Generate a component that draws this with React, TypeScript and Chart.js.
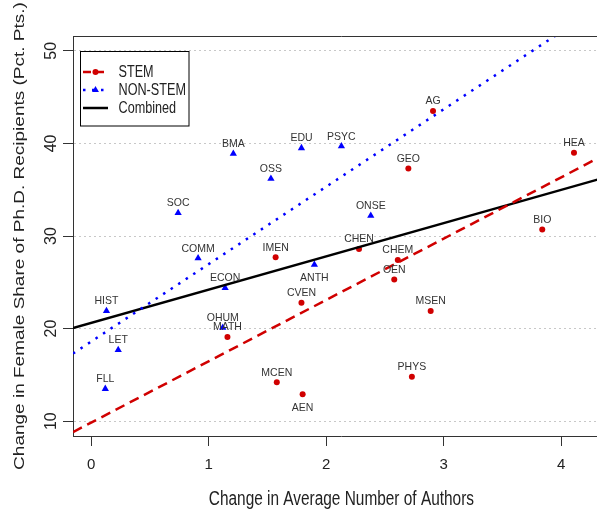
import React, { useEffect, useRef } from 'react';
import { Chart, registerables } from 'chart.js';

Chart.register(...registerables);

// ---------- data ----------
const X_TICKS = [0, 1, 2, 3, 4];
const Y_TICKS = [10, 20, 30, 40, 50];
const X_MIN = -0.155;
const X_MAX = 4.415;
const Y_MIN = 8.4;
const Y_MAX = 51.6;

const STEM_LABELS = ['AG', 'GEO', 'HEA', 'BIO', 'CHEN', 'CHEM', 'OEN', 'MSEN', 'PHYS', 'IMEN', 'CVEN', 'MATH', 'MCEN', 'AEN'];
const STEM_X = [2.91, 2.70, 4.11, 3.84, 2.28, 2.61, 2.58, 2.89, 2.73, 1.57, 1.79, 1.16, 1.58, 1.80];
const STEM_Y = [43.5, 37.3, 39.0, 30.7, 28.6, 27.4, 25.3, 21.9, 14.8, 27.7, 22.8, 19.1, 14.2, 12.9];

const NONSTEM_LABELS = ['BMA', 'EDU', 'PSYC', 'OSS', 'SOC', 'ONSE', 'COMM', 'ECON', 'ANTH', 'HIST', 'OHUM', 'LET', 'FLL'];
const NONSTEM_X = [1.21, 1.79, 2.13, 1.53, 0.74, 2.38, 0.91, 1.14, 1.90, 0.13, 1.12, 0.23, 0.12];
const NONSTEM_Y = [38.9, 39.5, 39.7, 36.2, 32.5, 32.2, 27.6, 24.4, 26.9, 21.9, 20.1, 17.7, 13.5];

const LABELS_BELOW = ['ANTH', 'AEN'];

const FIT_NAMES = ['STEM', 'NON-STEM', 'Combined'];
const FIT_INTERCEPT = [9.85, 18.6, 20.62];
const FIT_SLOPE = [6.62, 8.36, 3.59];

const X_TITLE = 'Change in Average Number of Authors';
const Y_TITLE = 'Change in Female Share of Ph.D. Recipients (Pct. Pts.)';

// ---------- styles ----------
const RED = '#D00000';
const BLUE = '#0000FF';
const BLACK = '#000000';
const FIT_COLORS = [RED, BLUE, BLACK];
const FIT_DASH = [[10, 6], [2.5, 6.5], []];
const FIT_MARKER = ['circle', 'triangle', null];
const SANS = '"Liberation Sans", Arial, sans-serif';
const SQUEEZE = 0.79; // reference text is horizontally condensed

function drawMarker(ctx: CanvasRenderingContext2D, kind: string | null, x: number, y: number, color: string) {
  if (!kind) return;
  ctx.save();
  ctx.setLineDash([]);
  ctx.fillStyle = color;
  ctx.beginPath();
  if (kind === 'circle') {
    ctx.arc(x, y, 3, 0, Math.PI * 2);
  } else {
    const r = 4;
    ctx.moveTo(x, y - r);
    ctx.lineTo(x + r * 0.866, y + r / 2);
    ctx.lineTo(x - r * 0.866, y + r / 2);
    ctx.closePath();
  }
  ctx.fill();
  ctx.restore();
}

function squeezedText(
  ctx: CanvasRenderingContext2D,
  text: string,
  x: number,
  y: number,
  font: string,
  align: CanvasTextAlign,
  rotate = false,
) {
  ctx.save();
  ctx.font = font;
  ctx.textAlign = align;
  ctx.textBaseline = 'middle';
  ctx.translate(x, y);
  if (rotate) {
    ctx.rotate(-Math.PI / 2);
    ctx.scale(1, SQUEEZE);
  } else {
    ctx.scale(SQUEEZE, 1);
  }
  ctx.fillText(text, 0, 0);
  ctx.restore();
}

const overlayPlugin = {
  id: 'overlay',
  afterDatasetsDraw(chart: any) {
    const { ctx, chartArea: ca } = chart;
    ctx.save();
    // top frame line
    ctx.strokeStyle = '#333';
    ctx.lineWidth = 1;
    ctx.setLineDash([]);
    ctx.beginPath();
    ctx.moveTo(ca.left, Math.round(ca.top) + 0.5);
    ctx.lineTo(ca.right, Math.round(ca.top) + 0.5);
    ctx.stroke();

    // point labels
    ctx.font = `10.5px ${SANS}`;
    ctx.fillStyle = '#333';
    ctx.textAlign = 'center';
    ctx.textBaseline = 'middle';
    chart.data.datasets.forEach((ds: any, di: number) => {
      if (!ds.pointNames) return;
      const meta = chart.getDatasetMeta(di);
      meta.data.forEach((el: any, i: number) => {
        const name = ds.pointNames[i];
        const below = LABELS_BELOW.includes(name);
        ctx.fillText(name, el.x, below ? el.y + 13.5 : el.y - 9.5);
      });
    });

    // legend
    const lx = Math.round(ca.left) + 7.5;
    const ly = Math.round(ca.top) + 15.5;
    ctx.strokeStyle = BLACK;
    ctx.lineWidth = 1;
    ctx.strokeRect(lx, ly, 108.5, 74.5);
    FIT_NAMES.forEach((name, i) => {
      const y = ly + 20.5 + i * 18;
      const x0 = lx + 2.5;
      const x1 = lx + 27.5;
      ctx.save();
      ctx.strokeStyle = FIT_COLORS[i];
      ctx.lineWidth = 2.5;
      ctx.setLineDash(i === 0 ? [8, 5] : FIT_DASH[i]);
      ctx.beginPath();
      ctx.moveTo(x0, y);
      ctx.lineTo(x1, y);
      ctx.stroke();
      ctx.restore();
      drawMarker(ctx, FIT_MARKER[i], (x0 + x1) / 2, y, FIT_COLORS[i]);
      ctx.fillStyle = '#222';
      squeezedText(ctx, name, lx + 38, y + 0.5, `16px ${SANS}`, 'left');
    });

    // axis titles (condensed like the reference)
    ctx.fillStyle = '#222';
    squeezedText(ctx, X_TITLE, (ca.left + ca.right) / 2, 500, `19.5px ${SANS}`, 'center');
    squeezedText(ctx, Y_TITLE, 20, (ca.top + ca.bottom) / 2, `19px ${SANS}`, 'center', true);
    ctx.restore();
  },
};

export default function App() {
  const canvasRef = useRef<HTMLCanvasElement | null>(null);

  useEffect(() => {
    if (!canvasRef.current) return;

    const fitDatasets = FIT_NAMES.map((name, i) => ({
      label: name,
      data: [X_MIN, X_MAX].map((x) => ({ x, y: FIT_INTERCEPT[i] + FIT_SLOPE[i] * x })),
      showLine: true,
      borderColor: FIT_COLORS[i],
      borderWidth: 2.5,
      borderDash: FIT_DASH[i],
      pointRadius: 0,
      fill: false,
    }));

    const chart = new Chart(canvasRef.current, {
      type: 'scatter',
      data: {
        datasets: [
          ...fitDatasets,
          {
            label: 'STEM points',
            pointNames: STEM_LABELS,
            data: STEM_X.map((x, i) => ({ x, y: STEM_Y[i] })),
            pointStyle: 'circle',
            pointRadius: 3,
            backgroundColor: RED,
            borderColor: RED,
            borderWidth: 0,
          } as any,
          {
            label: 'NON-STEM points',
            pointNames: NONSTEM_LABELS,
            data: NONSTEM_X.map((x, i) => ({ x, y: NONSTEM_Y[i] })),
            pointStyle: 'triangle',
            pointRadius: 4.2,
            backgroundColor: BLUE,
            borderColor: BLUE,
            borderWidth: 0,
          } as any,
        ],
      },
      options: {
        responsive: false,
        maintainAspectRatio: false,
        animation: false,
        events: [],
        layout: { padding: { top: 36, left: 0, right: 0, bottom: 0 } },
        plugins: { legend: { display: false }, tooltip: { enabled: false } },
        scales: {
          x: {
            type: 'linear',
            min: X_MIN,
            max: X_MAX,
            afterBuildTicks: (s: any) => {
              s.ticks = X_TICKS.map((v) => ({ value: v }));
            },
            afterFit: (s: any) => {
              s.height = 78;
            },
            grid: { drawOnChartArea: false, drawTicks: true, tickLength: 10, tickColor: '#333', tickWidth: 1 },
            border: { display: true, color: '#333', width: 1 },
            ticks: {
              font: { family: SANS, size: 15 },
              color: '#222',
              padding: 10,
              maxRotation: 0,
              minRotation: 0,
              callback: (v: any) => String(v),
            },
            title: { display: false, text: X_TITLE },
          },
          y: {
            type: 'linear',
            min: Y_MIN,
            max: Y_MAX,
            afterBuildTicks: (s: any) => {
              s.ticks = Y_TICKS.map((v) => ({ value: v }));
            },
            afterFit: (s: any) => {
              s.width = 73;
            },
            grid: {
              color: '#c8c8c8',
              lineWidth: 1,
              drawTicks: true,
              tickLength: 10,
              tickColor: '#333',
              tickWidth: 1,
              tickBorderDash: [],
            },
            border: { display: true, color: '#333', width: 1, dash: [2, 3] },
            ticks: {
              font: { family: SANS, size: 16 },
              color: '#222',
              padding: 3,
              minRotation: 90,
              maxRotation: 90,
              crossAlign: 'center',
              callback: (v: any) => String(v),
            },
            title: { display: false, text: Y_TITLE },
          },
        },
      } as any,
      plugins: [overlayPlugin],
    });

    return () => chart.destroy();
  }, []);

  return (
    <div
      style={{
        position: 'fixed',
        left: 0,
        top: 0,
        width: 597,
        height: 514,
        overflow: 'hidden',
        background: '#fff',
      }}
    >
      <canvas ref={canvasRef} width={614} height={514} style={{ display: 'block' }} />
    </div>
  );
}
